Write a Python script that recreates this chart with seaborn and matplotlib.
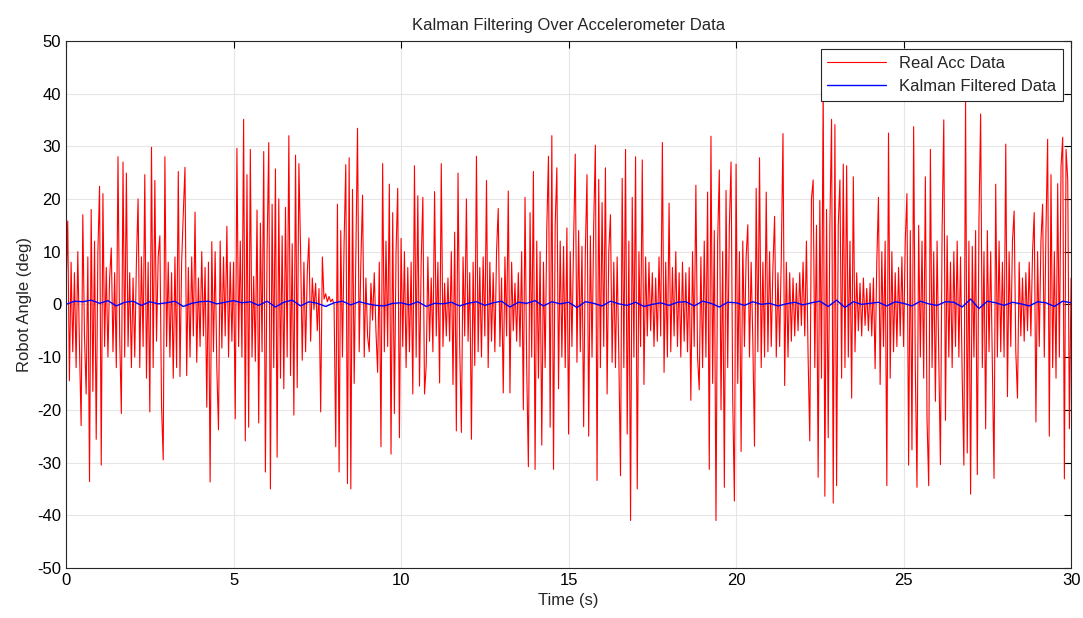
import matplotlib
matplotlib.use("Agg")
import matplotlib.pyplot as plt
import numpy as np
import pandas as pd
import seaborn as sns

# accelerometer angle (deg), one sample every 0.05 s
acc_00_05 = [
    3, 15.8, -14.5, 8, -9, 6, -12, 10, -8, -23, 17, -6, -17, 9, -33.6, 18, -16.5, 12, -25.6, 10,
    22.4, -30.5, 21, -8, 7, -10, 5, 10.7, -9, 6, -12, 28, -6, -20.7, 27, -10, 24.9, -8, 6, -12,
    5, -10, 8, 20, -12, 9, -8, 24.6, -14, 8, -20.4, 29.8, -12, 23.5, -7, 9, 13, -19.3, -29.5, 28,
    -8, 8, -10, 6, -14, 9, -12, 25.2, -13.7, 8, 17.4, 26, -13.5, 7, -10, 9, -6, 17.5, -11, 5,
    -8, 10, -6, 7, -19.5, 8, -33.7, 11.9, -9, 10, -12, -23.8, 12, -8.3, 9, -6, 14.8, -10, 8, -7,
]
acc_05_10 = [
    8, -21.7, 29.6, -8, 12, -10, 35.1, -25.9, 24.6, -23.3, 29.4, -10, 5.3, -10.8, 17.9, -22.5, 15.4, -9, 29, -31.8,
    10, 30.7, -35, 19, -12, 25.7, -29, 20, -14, 13, -16, 18.4, -10, 32, -13.5, 11.5, -21, 28.3, -15.8, 26.7,
    10.5, -10.6, 8, -9, 6, 12.6, -7, 5, -1, 4, -5, 3, -20.4, 9, 1, 2, 0.5, 1.5, 0.5, 1,
    0, -27, 19, -31.8, 14, -10, 12, 26.5, -34, 27.8, -35, 21.8, -15, 10, 33.4, -9, 8, 20.7, -10, 5,
    -6, -9, 4, -3, 6, -5, -12.9, 8, -27, 26.7, -9, 12, -8, 22.8, -28.4, 17.4, -20.7, 10, 22, -25.3,
]
acc_10_15 = [
    12.5, -8, 10, -12, 7, -9, 8, -17, 26.3, -10, 20.6, -15.5, 8, 20.3, -17, -11.6, 9, -7, 5, -9,
    21.4, -6, 8, -14.9, 26.7, -8, 4, -6, 5, -7, 10, -15.2, 13.7, -24, 24.9, -8, -24.3, 9, -6, 20,
    -7, 6, -25.6, 8, -11.6, 28.1, -9, 7, -10, 9, -6, 23.5, -12, 8, -7, 6, -9, 10, 18.2, -8,
    5, -16.8, 9, -6, 21.5, -16.8, 8, -5, 4, -7, 6, -8, 10, -20, 20.3, -12, -30.8, 17.4, -10, 25.2,
    -31.3, 12, -14, 10, -26.7, 8, -12, 14.5, 28.1, -23.3, 32, -31.3, 15, 25.9, -16, 12, -10, 11, -12, 14.5,
]
acc_15_20 = [
    -24.6, 10, -8, 12, 28.5, -11, 14, -9, 11, -23.2, 10, 24.6, -25, 13, -10, 15, 30.2, -33.4, 23.7, -12,
    19.3, -8, 25.9, -17, 10, 17, -11, 8, -12, 9, -10, -32.5, 23.9, -12, 29.4, -24.6, 12, -41, 20.3, -10,
    28, -35, 10, -8, 27.4, -15.2, 9, -6, 8, -5, 6, -8, 5, -7, 9, -6, 30.7, -12.9, 8, -10,
    19.2, -9, 7, -6, 10, -8, 6, -10, 8, -7, 6, -9, 7, -18.2, 10, -8, 22.6, -10, -16.2, 9,
    -12, 12, -10, 21.3, -31.3, 31.9, -15, 14, -41, 12, 25.5, -20, 10, -34.7, 21.6, -12, 15, 27, -18, -37.3,
]
acc_20_25 = [
    26.6, -15, 10, -27.9, 12, -8, 9, 15.1, -10, 8, -7, -26.9, 22, -9, 27.8, -12, 8, -10, 21.3, -9,
    10, -8, 7, 16.7, -10, 6, -8, 9, 32.4, -15.4, 8, -10, 6, -7, 5, -6, 4, -5, 6, -4,
    8, -6, 12, -10, -25.9, 20, 23.6, -12, 15, -32.8, 19.7, -14, 41.5, -36.4, 18, -25.3, 15, 35.1, -37.7, 34.1,
    -34.4, 15, 23.6, -14, 26.6, -12, 26.3, -10, 12, -17.8, 24.2, -9, 6, -5, 4, -6, 5, -4, 3, -5,
    4, -6, 5, -12.2, 8, 20.3, -15.2, 10, -8, 12, -34.4, 32.5, -14, 10, -9, 6, -8, 7, -6, 9,
]
acc_25_30 = [
    -8, 12, 21, -30.5, 14, -27.6, 33.7, -12, -34.7, 15, -10, 12, -14, 24.2, -21.9, -34.4, 29.4, -12, 10, -18.4,
    12, -10, -30.4, 14, 35, -22, 13, -10, 8, -12, 10, -8, 12, -10, 9, -14, -30.5, 38.9, -28.2, 12,
    -36, 11, -10, 14, -32.3, 16, 36.1, -12, 10, -23.6, 14, -9, 10, -12, -33, 22.8, -10, 12, -9, 8,
    -10, 30.4, -17.5, 10, -8, 12, 17.7, -9, -17.8, 8, -6, 5, -7, 6, -5, 8, -6, 10, 17.4, -22.3,
    10, -8, 12, 19, -10, 14, 31.3, -25, 24.6, -12, 10, -14, 22.9, -10, 26.2, 31.7, -33.1, 29.4, 23.6, -23.6,
    5,
]

# Kalman output (deg), one sample every 0.25 s
kalman = [
    0.0, 0.6, 0.5, 0.8, 0.2, 0.7, -0.3, 0.4, 0.6, -0.2, 0.5, 0.1, 0.3, 0.6, -0.4, 0.2, 0.5, 0.6, 0.1, 0.4,
    0.7, 0.3, 0.5, -0.2, 0.6, -0.5, 0.4, 0.8, -0.3, 0.5, 0.2, -0.4, 0.3, 0.6, -0.1, 0.5, 0.1, -0.2, -0.3, 0.2,
    0.3, -0.1, 0.5, -0.4, 0.2, 0.1, 0.4, -0.3, 0.2, 0.5, -0.2, 0.3, 0.6, -0.5, 0.4, 0.2, 0.7, -0.3, 0.5, 0.1,
    0.4, -0.6, 0.5, 0.2, -0.3, 0.6, 0.1, -0.2, 0.4, -0.4, 0.0, 0.3, -0.2, 0.4, 0.5, -0.3, 0.6, 0.2, -0.5, 0.4,
    0.3, -0.2, 0.5, 0.0, 0.2, -0.3, 0.1, 0.4, -0.1, 0.3, 0.6, -0.4, 0.8, -0.6, 0.5, 0.0, 0.2, 0.4, -0.3, 0.5,
    0.2, -0.3, 0.6, 0.1, -0.2, 0.5, 0.4, -0.5, 1.0, -0.8, 0.6, 0.3, -0.2, 0.4, 0.1, -0.3, 0.5, 0.3, -0.4, 0.6,
    0.3,
]

acc = acc_00_05 + acc_05_10 + acc_10_15 + acc_15_20 + acc_20_25 + acc_25_30
acc_df = pd.DataFrame({"t": np.linspace(0, 30, len(acc)), "angle": acc})
kal_df = pd.DataFrame({"t": np.linspace(0, 30, len(kalman)), "angle": kalman})

sns.set_style("white")
plt.rcParams["font.family"] = ["Liberation Sans", "DejaVu Sans"]
plt.rcParams["axes.unicode_minus"] = False

fig = plt.figure(figsize=(10.83, 6.18), dpi=100)
ax = fig.add_axes([0.061, 0.081, 0.928, 0.853])

sns.lineplot(data=acc_df, x="t", y="angle", ax=ax, color="#ff0000", linewidth=0.8,
             estimator=None, label="Real Acc Data")
sns.lineplot(data=kal_df, x="t", y="angle", ax=ax, color="#0000ff", linewidth=1.0,
             estimator=None, label="Kalman Filtered Data")

ax.set_xlim(0, 30)
ax.set_ylim(-50, 50)
ax.set_xticks(range(0, 31, 5))
ax.set_yticks(range(-50, 51, 10))
ax.grid(True, color="#e6e6e6", linewidth=0.8)
ax.set_axisbelow(True)
ax.tick_params(direction="in", top=True, right=True, length=5, labelsize=12, colors="black")
for s in ax.spines.values():
    s.set_color("#262626")
    s.set_linewidth(0.8)

ax.set_title("Kalman Filtering Over Accelerometer Data", fontsize=12, pad=8)
ax.set_xlabel("Time (s)", fontsize=12)
ax.set_ylabel("Robot Angle (deg)", fontsize=12)

leg = ax.legend(loc="upper right", fontsize=12, fancybox=False, framealpha=1,
                edgecolor="#262626", borderaxespad=0.5, handlelength=3.5)
leg.get_frame().set_linewidth(0.8)

fig.savefig("out.png", dpi=100)
